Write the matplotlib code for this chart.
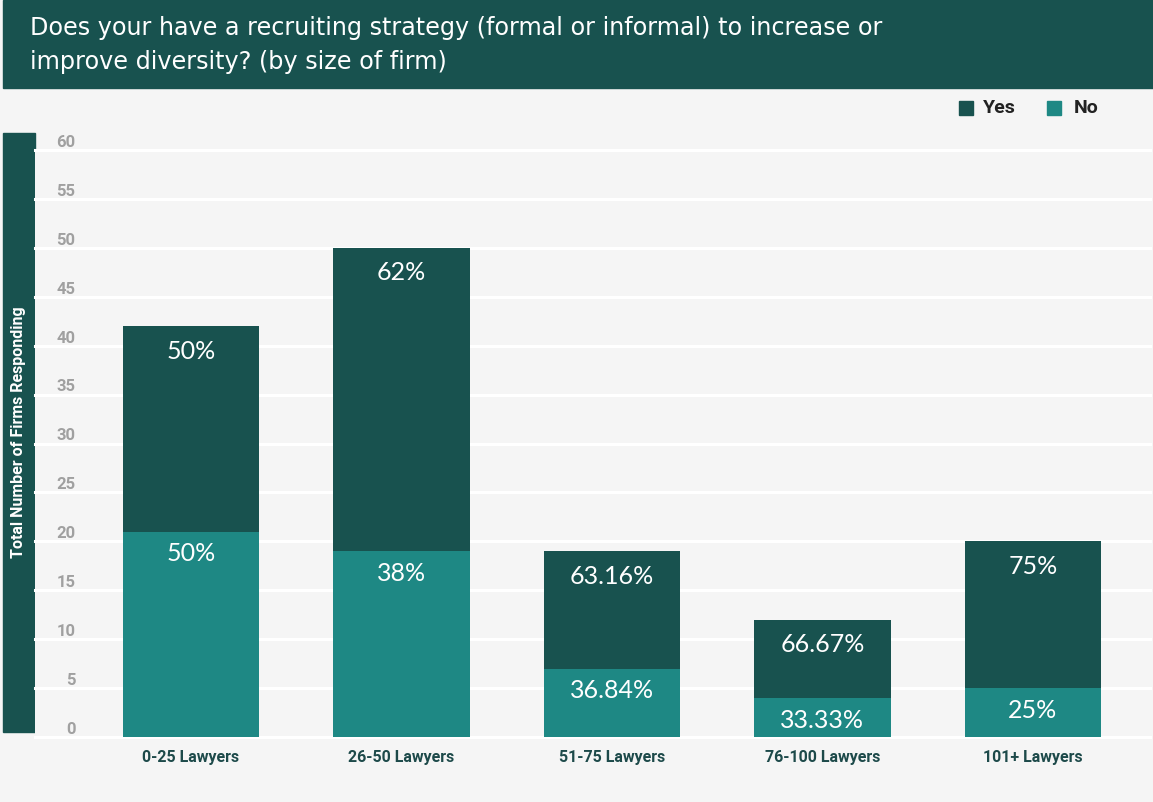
import numpy as np
import matplotlib.pyplot as plt
from matplotlib.patches import Rectangle

# survey counts by firm size
categories = ['0-25 Lawyers', '26-50 Lawyers', '51-75 Lawyers', '76-100 Lawyers', '101+ Lawyers']
no_counts = [21, 19, 7, 4, 5]
yes_counts = [21, 31, 12, 8, 15]
no_labels = ['50%', '38%', '36.84%', '33.33%', '25%']
yes_labels = ['50%', '62%', '63.16%', '66.67%', '75%']
y_ticks = list(range(0, 61, 5))

dark = '#18524f'
teal = '#1e8884'
bg = '#f5f5f5'

W, H = 1153, 802
fig = plt.figure(figsize=(W / 100, H / 100), dpi=100, facecolor=bg)

def px(x0, y0, x1, y1):
    # pixel box (top-left origin) -> figure fraction rect
    return [x0 / W, 1 - y1 / H, (x1 - x0) / W, (y1 - y0) / H]

# header band
fig.add_artist(Rectangle((3 / W, 1 - 88 / H), (W - 3) / W, 88 / H,
                         transform=fig.transFigure, color=dark, zorder=0))
fig.text(30 / W, 1 - 45 / H,
         'Does your have a recruiting strategy (formal or informal) to increase or\nimprove diversity? (by size of firm)',
         color='white', fontsize=17.2, family='DejaVu Sans', va='center', ha='left', linespacing=1.5)

# y-label band
fig.add_artist(Rectangle((3 / W, 1 - 732 / H), 32 / W, (732 - 133) / H,
                         transform=fig.transFigure, color=dark, zorder=0))
fig.text(19 / W, 1 - 432 / H, 'Total Number of Firms Responding', rotation=90,
         color='white', fontsize=11.5, fontweight='bold', family='Roboto',
         ha='center', va='center')

ax = fig.add_axes(px(35, 150, 1150, 737))
ax.set_facecolor(bg)
ax.set_xlim(-0.741, 4.556)
ax.set_ylim(0, 60)
for s in ax.spines.values():
    s.set_visible(False)
ax.set_xticks([])
ax.set_yticks([])

for t in y_ticks:
    ax.axhline(t, color='white', lw=2.2, zorder=1, clip_on=False)
    ax.annotate(str(t), xy=(0, t), xycoords=('axes fraction', 'data'),
                xytext=(29, 5.5), textcoords='offset points', ha='right', va='center',
                color='#a0a0a0', fontsize=12, fontweight='bold', family='Roboto')

x = np.arange(len(categories))
bw = 0.65
ax.bar(x, no_counts, bw, color=teal, zorder=2)
ax.bar(x, yes_counts, bw, bottom=no_counts, color=dark, zorder=2)

for i in range(len(categories)):
    ax.annotate(no_labels[i], xy=(x[i], no_counts[i]), xytext=(0, -16),
                textcoords='offset points', ha='center', va='center',
                color='white', fontsize=18, family='Lato')
    ax.annotate(yes_labels[i], xy=(x[i], no_counts[i] + yes_counts[i]), xytext=(0, -18),
                textcoords='offset points', ha='center', va='center',
                color='white', fontsize=18, family='Lato')
    ax.annotate(categories[i], xy=(x[i], 0), xytext=(0, -15),
                textcoords='offset points', ha='center', va='center',
                color='#1d4a4a', fontsize=11.5, fontweight='bold', family='Roboto')

# legend
for sx, tx, lab, col in [(959, 983, 'Yes', dark), (1047, 1074, 'No', teal)]:
    fig.add_artist(Rectangle((sx / W, 1 - 115 / H), 14 / W, 14 / H,
                             transform=fig.transFigure, color=col))
    fig.text(tx / W, 1 - 108 / H, lab, color='#222222', fontsize=14,
             fontweight='bold', family='Roboto', ha='left', va='center')

fig.savefig('out.png', dpi=100, facecolor=bg)
